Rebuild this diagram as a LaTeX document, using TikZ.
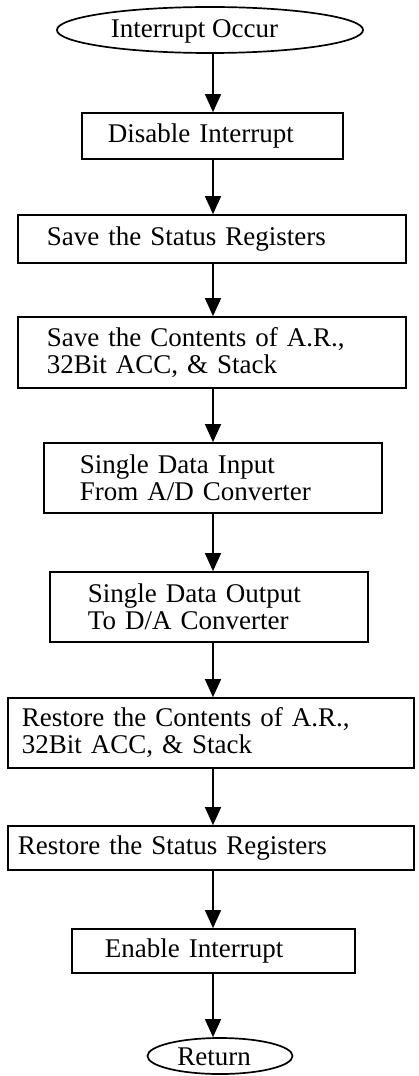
\documentclass[tikz,border=0pt]{standalone}
\usepackage{fontspec}
\setmainfont{Liberation Serif}
\usetikzlibrary{arrows.meta,shapes.geometric}

\begin{document}
\begin{tikzpicture}[x=0.025cm, y=-0.025cm,
		box/.style={draw, line width=1.2pt, rectangle, align=left, inner ysep=0pt, font=\fontsize{19.2}{19.2}\selectfont},
		terminal/.style={draw, line width=1.2pt, ellipse, inner sep=0pt},
		termtext/.style={inner sep=0pt, font=\fontsize{19.2}{19.2}\selectfont},
		flow/.style={line width=1pt, -{Triangle[width=0.4cm, length=0.45cm]}}]
		%%%%% START %%%%%
		
		\useasboundingbox (0, 0) rectangle (419, 1076);
		\coordinate (spine) at (213, 0);
		
		\node[terminal, minimum width=7.65cm, minimum height=1.15cm] (occur) at (210, 30) {};
		\node[termtext] (occurtext) at (194.5, 31) {Interrupt Occur};
		
		\node[box, text width=5.225cm, inner xsep=0.65cm, minimum height=1.15cm] (disable) at (212.5, 136) {Disable Interrupt};
		\node[box, text width=8.25cm, inner xsep=0.725cm, minimum height=1.2cm] (savestat) at (212, 239) {Save the Status Registers};
		\node[box, text width=8.25cm, inner xsep=0.725cm, minimum height=1.775cm] (savecont) at (212, 352.5) {Save the Contents of A.R.,\\32Bit ACC, \& Stack};
		
		\node[box, text width=6.65cm, inner xsep=0.9cm, minimum height=1.75cm] (adin) at (213, 478) {Single Data Input\\From A/D Converter};
		\node[box, text width=6.05cm, inner xsep=0.95cm, minimum height=1.75cm] (daout) at (209, 607) {Single Data Output\\To D/A Converter};
		
		\node[box, text width=9.45cm, inner xsep=0.35cm, minimum height=1.75cm] (restcont) at (211, 733) {Restore the Contents of A.R.,\\32Bit ACC, \& Stack};
		\node[box, text width=9.65cm, inner xsep=0.25cm, minimum height=1.1cm] (reststat) at (211, 848) {Restore the Status Registers};
		\node[box, text width=5.425cm, inner xsep=0.825cm, minimum height=1.1cm] (enable) at (213.5, 951) {Enable Interrupt};
		
		\node[terminal, minimum width=3.625cm, minimum height=0.9cm] (return) at (220, 1056) {};
		\node[termtext] (returntext) at (214, 1057) {Return};
		
		\draw[flow] (occur.south -| spine) -- (disable.north -| spine);
		\draw[flow] (disable.south -| spine) -- (savestat.north -| spine);
		\draw[flow] (savestat.south -| spine) -- (savecont.north -| spine);
		\draw[flow] (savecont.south -| spine) -- (adin.north -| spine);
		\draw[flow] (adin.south -| spine) -- (daout.north -| spine);
		\draw[flow] (daout.south -| spine) -- (restcont.north -| spine);
		\draw[flow] (restcont.south -| spine) -- (reststat.north -| spine);
		\draw[flow] (reststat.south -| spine) -- (enable.north -| spine);
		\draw[flow] (enable.south -| spine) -- (return.north -| spine);
		
		%%%%% END %%%%%
	\end{tikzpicture}
\end{document}
